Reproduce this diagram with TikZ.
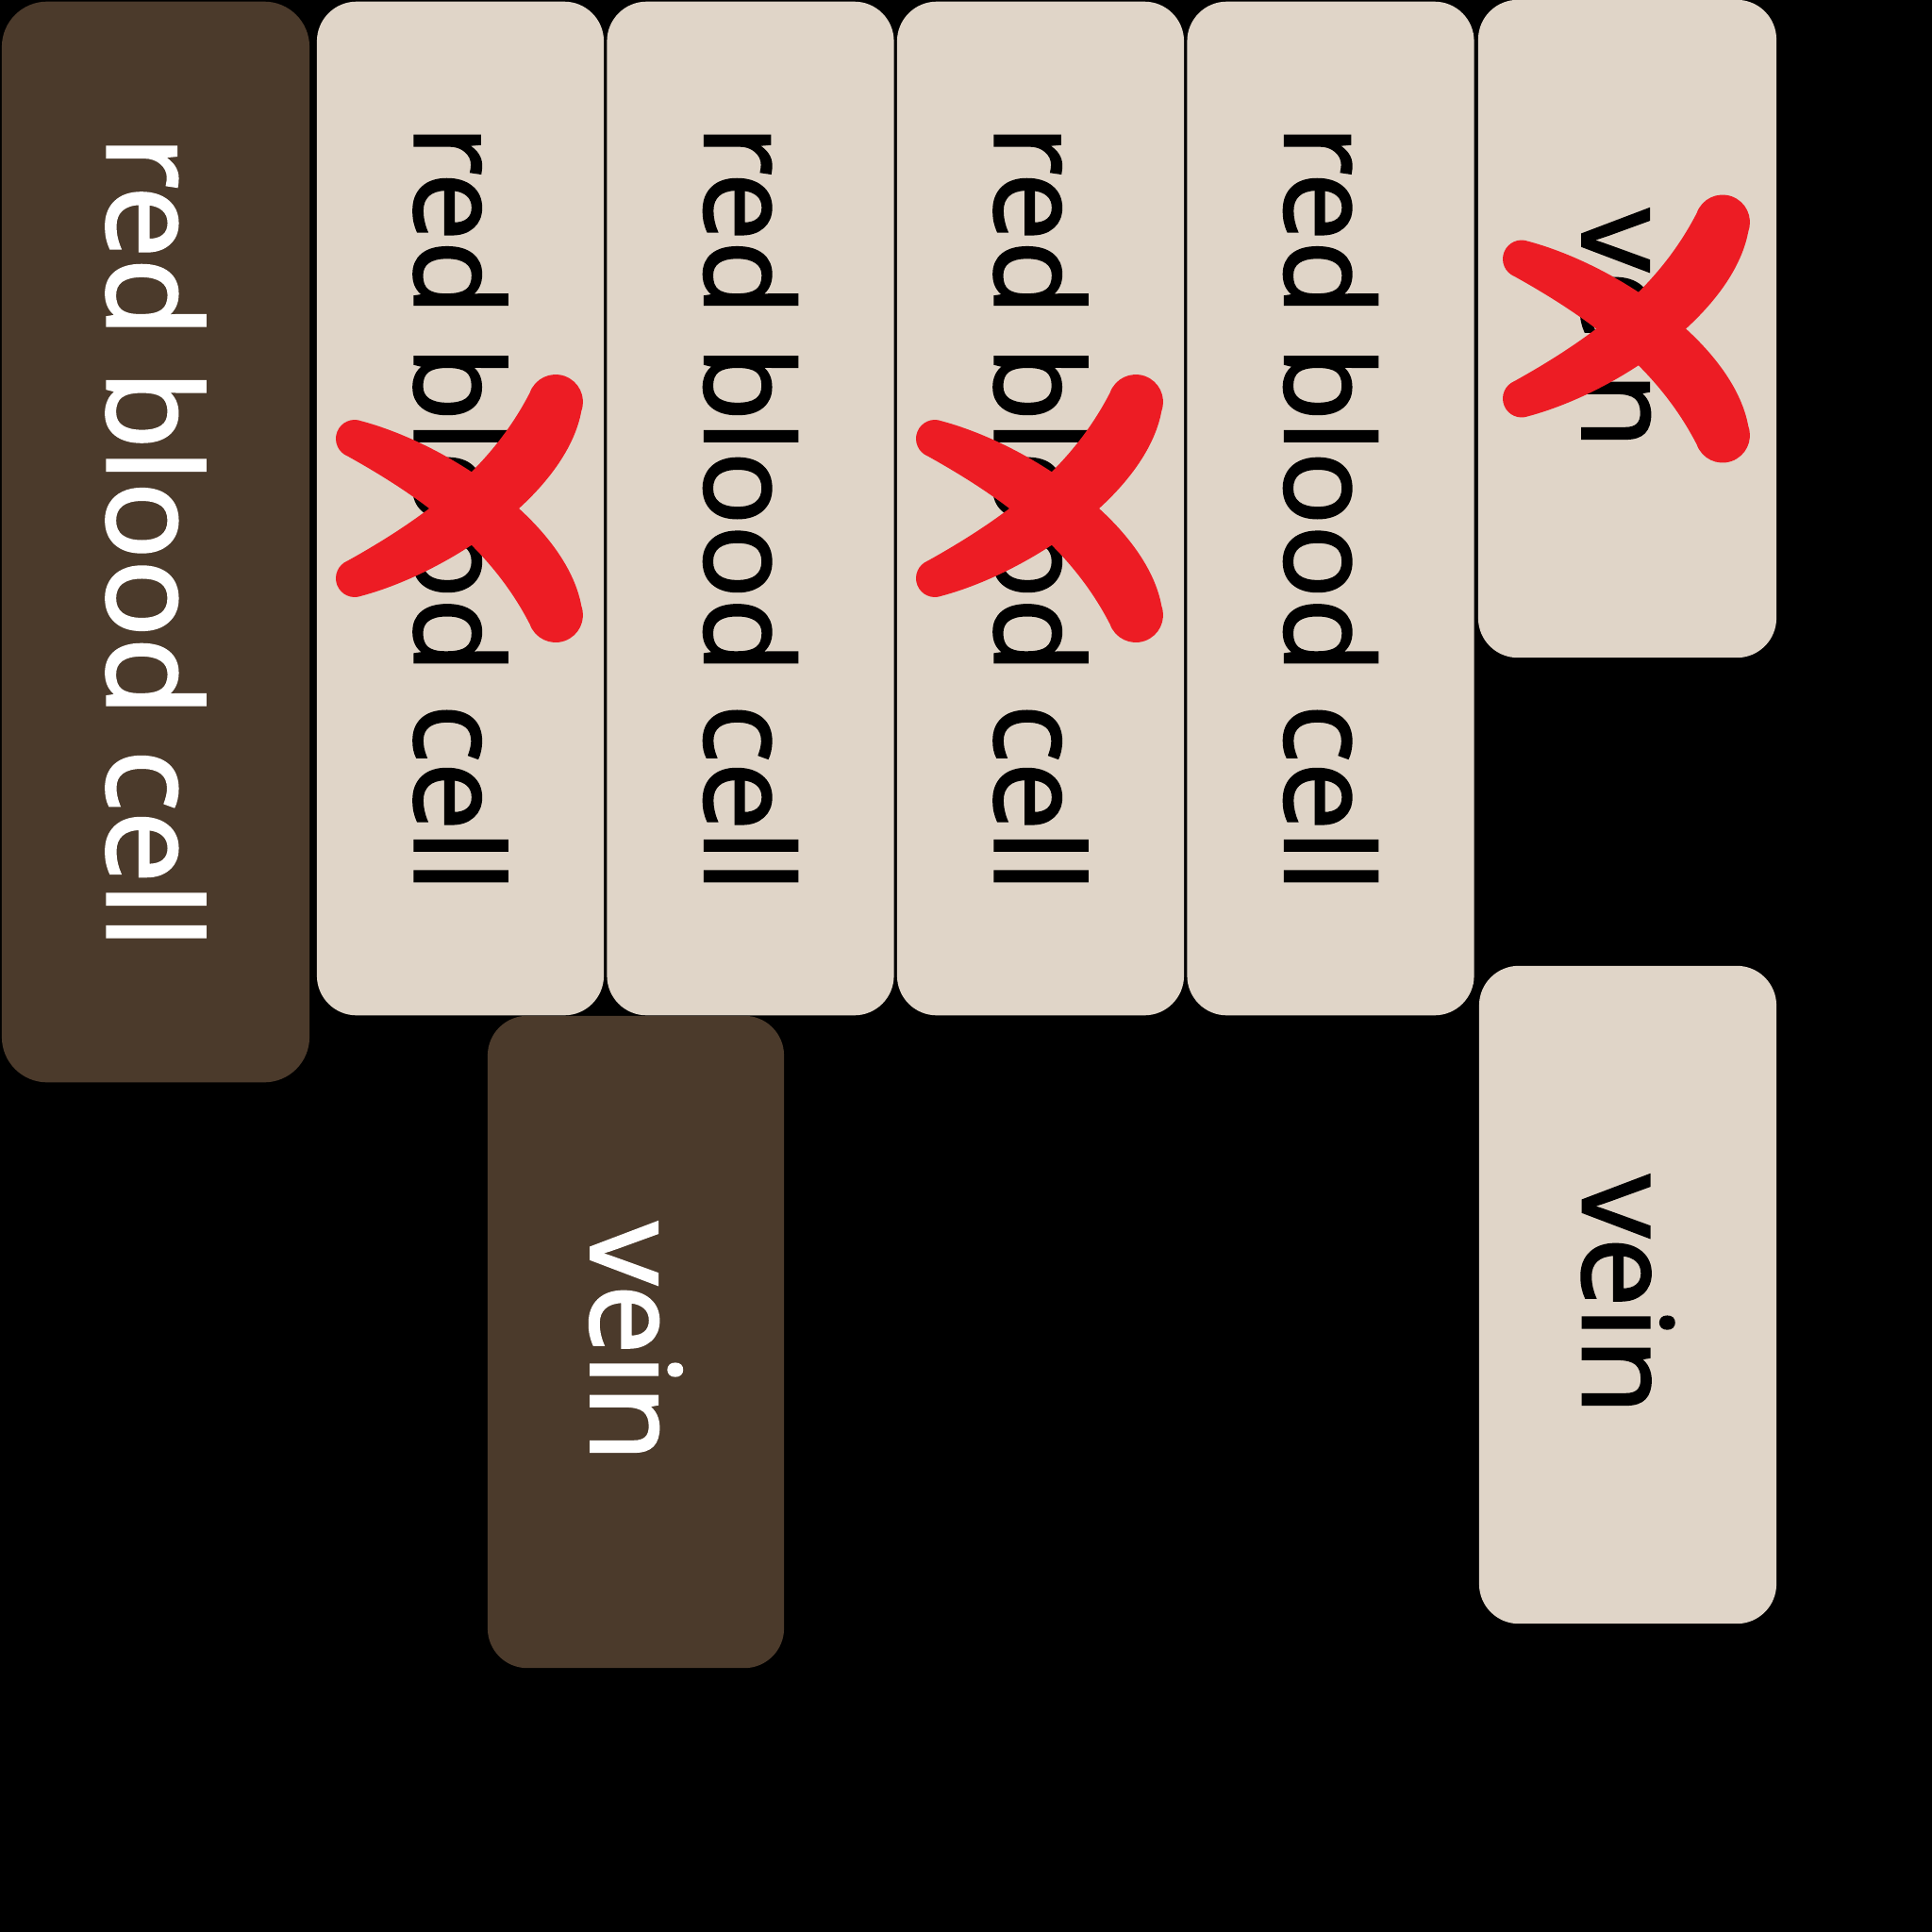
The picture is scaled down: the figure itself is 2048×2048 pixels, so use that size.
\documentclass[tikz,border=0pt]{standalone}
\usepackage{fontspec}
\setmainfont{Open Sans}[FakeBold=2]
\usepackage{tikz}
\definecolor{CellDark}{HTML}{4B3A2B}
\definecolor{CellLight}{HTML}{E0D5C8}
\definecolor{CrossRed}{HTML}{ED1C24}
\tikzset{
    cell/.style={rounded corners=0.42cm, inner sep=0pt, rotate=-90},
    darkcell/.style={cell, fill=CellDark, text=white},
    lightcell/.style={cell, fill=CellLight, text=black},
    redx/.pic={
        \foreach \flip in {1,-1} {
            \fill[CrossRed, yscale=\flip] (-123.6,92.6) .. controls (-28.2,66.8) and (93.5,-17.1) .. (109.3,-103.4)
                arc[start angle=19.3, end angle=-160.7, radius=29]
                .. controls (14.5,-44.9) and (-51.8,7.2) .. (-138.4,55.4)
                arc[start angle=248.3, end angle=68.3, radius=20] -- cycle;
        }
    }
}

\begin{document}
\begin{tikzpicture}[x=0.01cm,y=-0.01cm]
    \fill[black] (0,0) rectangle (2048,2048);
    \useasboundingbox (0,0) rectangle (2048,2048);
    \node[darkcell, minimum width=11.45cm, minimum height=3.26cm, rounded corners=0.48cm,
        font=\fontsize{38.8}{44}\selectfont] (rbcA) at (165,574.5) {red blood cell};
    \foreach \xpos/\name in {488/rbcB,795.5/rbcC,1103/rbcD,1410.5/rbcE} {
        \node[lightcell, minimum width=10.74cm, minimum height=3.04cm,
            font=\fontsize{36.6}{40}\selectfont] (\name) at (\xpos,539) {red blood cell};
    }
    \node[lightcell, minimum width=6.97cm, minimum height=3.16cm,
        font=\fontsize{37.4}{40}\selectfont] (veinF) at (1725,348.5) {vein};
    \node[darkcell, minimum width=6.91cm, minimum height=3.14cm,
        font=\fontsize{37.4}{40}\selectfont] (veinG) at (674,1422.5) {vein};
    \node[lightcell, minimum width=6.97cm, minimum height=3.15cm,
        font=\fontsize{37.4}{40}\selectfont] (veinH) at (1725.5,1372.5) {vein};
    \foreach \name in {rbcB,rbcD,veinF}
        \pic at ([xshift=0.19cm]\name.center) {redx};
\end{tikzpicture}
\end{document}
